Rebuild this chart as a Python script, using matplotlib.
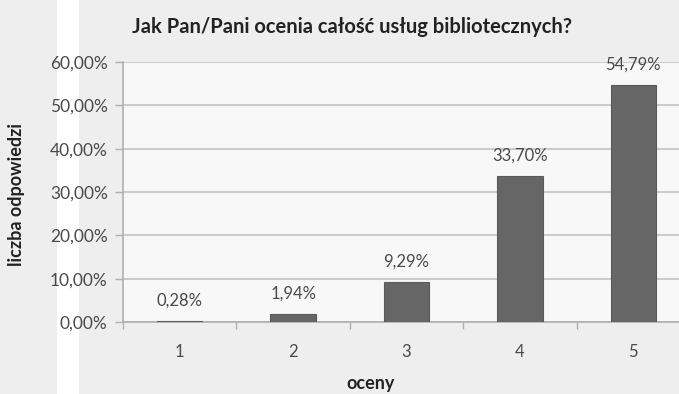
import matplotlib.pyplot as plt
from matplotlib.patches import Rectangle

oceny = ['1', '2', '3', '4', '5']
procenty = [0.28, 1.94, 9.29, 33.70, 54.79]
etykiety_y = ['0,00%', '10,00%', '20,00%', '30,00%', '40,00%', '50,00%', '60,00%']

plt.rcParams['font.family'] = ['Lato', 'DejaVu Sans']

fig = plt.figure(figsize=(6.79, 3.94), dpi=100)
fig.patch.set_facecolor('#eeeeee')
# bialy pasek po lewej stronie (pod tekstem)
fig.patches.append(Rectangle((57 / 679, 0), 22 / 679, 1, transform=fig.transFigure,
                             facecolor='white', edgecolor='none', zorder=-10))

ax = fig.add_axes([123 / 679, 72 / 394, 567 / 679, 260 / 394])
ax.set_facecolor('#f8f8f8')

x = list(range(1, len(oceny) + 1))
ax.bar(x, procenty, width=0.4, color='#666666', edgecolor='#5a5a5a', linewidth=0.8, zorder=3)

for xi, v in zip(x, procenty):
    ax.text(xi, v + 4.6, f'{v:.2f}%'.replace('.', ','), ha='center', va='center',
            fontsize=12, color='#4a4a4a', zorder=4)

ax.set_xlim(0.5, 5.5)
ax.set_ylim(0, 60)
ax.set_yticks(range(0, 61, 10))
ax.set_yticklabels(etykiety_y)
ax.set_xticks(x)
ax.set_xticklabels(oceny)
ax.set_xticks([0.5, 1.5, 2.5, 3.5, 4.5, 5.5], minor=True)
ax.tick_params(axis='x', which='major', length=0, pad=16, labelsize=12, labelcolor='#4a4a4a')
ax.tick_params(axis='x', which='minor', length=5, width=1, color='#b0b0b0')
ax.tick_params(axis='y', length=6, width=1, color='#b0b0b0', labelsize=12.5, labelcolor='#4a4a4a', pad=5)

ax.grid(axis='y', color='#cccccc', linewidth=1.5, zorder=0)
ax.set_axisbelow(True)
for s in ['top', 'right']:
    ax.spines[s].set_visible(False)
ax.spines['left'].set_color('#b0b0b0')
ax.spines['bottom'].set_color('#b0b0b0')
ax.spines['left'].set_linewidth(1.2)
ax.spines['bottom'].set_linewidth(1.2)

fig.text(352 / 679, 1 - 27 / 394, 'Jak Pan/Pani ocenia całość usług bibliotecznych?',
         ha='center', va='center', fontsize=14.5, fontweight='bold', color='#222222')
fig.text(17 / 679, 1 - 194 / 394, 'liczba odpowiedzi', rotation=90, ha='center', va='center',
         fontsize=13, fontweight='bold', color='#222222')
fig.text(371 / 679, 1 - 384 / 394, 'oceny', ha='center', va='center',
         fontsize=13, fontweight='bold', color='#222222')

fig.savefig('out.png', dpi=100, facecolor=fig.get_facecolor())
